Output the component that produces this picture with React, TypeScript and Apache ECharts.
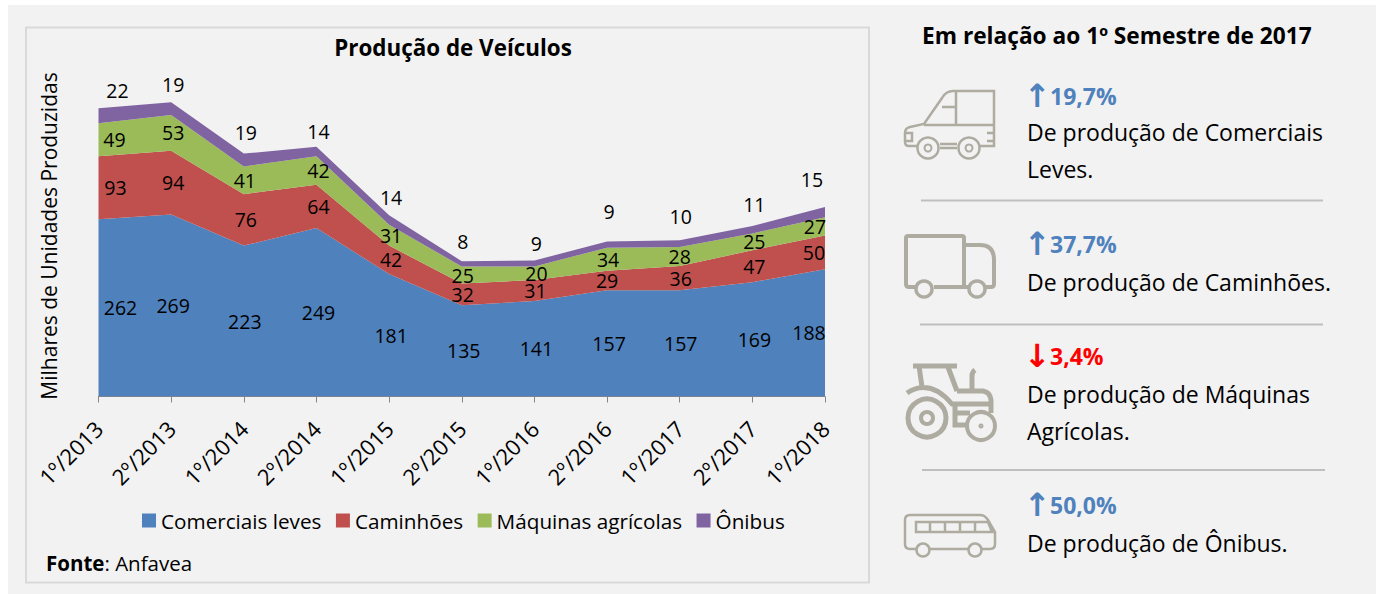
import React, { useEffect, useRef } from "react";
import * as echarts from "echarts";

const categories = ["1º/2013","2º/2013","1º/2014","2º/2014","1º/2015","2º/2015","1º/2016","2º/2016","1º/2017","2º/2017","1º/2018"];
const comerciais = [262,269,223,249,181,135,141,157,157,169,188];
const caminhoes = [93,94,76,64,42,32,31,29,36,47,50];
const maquinas = [49,53,41,42,31,25,20,34,28,25,27];
const onibus = [22,19,19,14,14,8,9,9,10,11,15];

const dxComerciais = [22,2,1,2,2,2,2,2,1,2,-16];
const dxCaminhoes = [17,2,2,2,2,1,1,0,1,2,-11];
const dxMaquinas = [16,2,1,2,2,1,2,1,0,2,-10];
const dxOnibus = [19,2,2,2,2,1,2,2,1,2,-13];
const dyOnibus = [-18,-18,-21,-15,-18,-20,-17,-30,-24,-21,-28];

const FONT = "'Open Sans'";
const GRID_TOP = 92;
const GRID_BOTTOM = 396.5;
const Y_MAX = 450;
const PX = (GRID_BOTTOM - GRID_TOP) / Y_MAX;
const ICON = "#aeaba1";

const blue = "#4f81bd";
const red = "#ff0000";

const vanD = "M917 146H909Q905 146 905 142V133Q905 128 910 127L924 124L942 98Q946 91 953 91H994V146H980M956 91V125M924 125H994M942 107H955M940 144H957M940 148H957M905 133H912V141H905M987 141H994V133H987";
const truckD = "M915 287H909Q906 287 906 284V238Q906 236 908 236H962Q964 236 964 238V287M964 245H980Q994 245 994 260V284Q994 287 991 287H986M934 287H968";
const tractorD = "M913 366H957M919 366L922 387M948 367L957 391M907 393Q930 378 952 404H991M957 391H983Q990 392 991 400V413M975 370Q972 372 972 376V391M955 406V425H966M955 413H970";
const busD = "M916 549H910Q905 549 905 544V520Q905 515 910 515H980Q985 515 988 520L995 532V544Q995 549 990 549H982M930 549H968M916 522H988L992 532H916ZM930 522V532M945 522V532M960 522V532M975 522V532";

echarts.graphic.registerShape("van", echarts.graphic.extendPath(vanD, {}));
echarts.graphic.registerShape("truck", echarts.graphic.extendPath(truckD, {}));
echarts.graphic.registerShape("tractor", echarts.graphic.extendPath(tractorD, {}));
echarts.graphic.registerShape("bus", echarts.graphic.extendPath(busD, {}));

const iconPath = (type: string, lineWidth: number) => ({
  type, x: 0, y: 0, silent: true,
  style: { fill: "none", stroke: ICON, lineWidth },
});
const ring = (cx: number, cy: number, r: number, lineWidth: number) => ({
  type: "circle", shape: { cx, cy, r }, silent: true,
  style: { fill: "#f2f2f2", stroke: ICON, lineWidth },
});
const txt = (x: number, y: number, text: string, fontSize: number, fill = "#000", fontWeight = "normal") => ({
  type: "text", x, y, silent: true,
  style: { text, fontSize, fontFamily: FONT, fill, fontWeight, align: "left", verticalAlign: "middle" },
});
const change = (y: number, arrow: string, value: string, fill: string) => ({
  type: "text", x: 1024, y, silent: true,
  style: {
    text: `{a|${arrow}}{v|${value}}`, align: "left", verticalAlign: "middle",
    rich: {
      a: { fontFamily: "'DejaVu Sans'", fontSize: 32, fontWeight: "bold", fill, width: 26 },
      v: { fontFamily: FONT, fontSize: 23, fontWeight: "bold", fill },
    },
  },
});
const rule = (x1: number, x2: number, y: number) => ({
  type: "line", shape: { x1, y1: y, x2, y2: y }, silent: true,
  style: { stroke: "#bfbfbf", lineWidth: 2 },
});

const bandSeries = (name: string, values: number[], color: string, dx: number[], dy: (v: number, i: number) => number) => ({
  name,
  type: "line",
  stack: "total",
  symbol: "circle",
  symbolSize: 0,
  showSymbol: true,
  showAllSymbol: true,
  lineStyle: { width: 0 },
  itemStyle: { color },
  areaStyle: { color, opacity: 1 },
  label: { show: true, position: "inside", fontSize: 19.5, fontFamily: FONT, color: "#000", formatter: "{c}" },
  data: values.map((value, i) => ({ value, label: { offset: [dx[i], dy(value, i)] } })),
});

export default function App() {
  const ref = useRef<HTMLDivElement>(null);
  useEffect(() => {
    document.body.style.margin = "0";
    const chart = echarts.init(ref.current!, undefined, { renderer: "svg" });
    const mid = (v: number) => (v / 2) * PX;
    chart.setOption({
      animation: false,
      backgroundColor: "#ffffff",
      title: {
        text: "Produção de Veículos",
        left: 448, top: 31, textAlign: "center",
        textStyle: { fontFamily: FONT, fontSize: 22.4, fontWeight: "bold", color: "#000" },
      },
      grid: { left: 98.5, right: 1376 - 825, top: GRID_TOP, bottom: 594 - GRID_BOTTOM },
      legend: {
        left: 137, top: 505, icon: "rect", itemWidth: 14, itemHeight: 14, itemGap: 14.5,
        textStyle: { fontFamily: FONT, fontSize: 20.7, color: "#000" },
      },
      xAxis: {
        type: "category", data: categories, boundaryGap: false,
        axisLine: { lineStyle: { color: "#868686", width: 1 } },
        axisTick: { show: true, length: 6, lineStyle: { color: "#868686" } },
        axisLabel: { rotate: 45, interval: 0, margin: 28, fontFamily: FONT, fontSize: 22, color: "#000" },
      },
      yAxis: { type: "value", min: 0, max: Y_MAX, show: false },
      series: [
        bandSeries("Comerciais leves", comerciais, "#4f81bd", dxComerciais, mid),
        bandSeries("Caminhões", caminhoes, "#c0504d", dxCaminhoes, mid),
        bandSeries("Máquinas agrícolas", maquinas, "#9bbb59", dxMaquinas, mid),
        bandSeries("Ônibus", onibus, "#8064a2", dxOnibus, (_v, i) => dyOnibus[i]),
      ],
      graphic: [
        { type: "rect", z: -10, silent: true, shape: { x: 8, y: 5, width: 1368, height: 589 }, style: { fill: "#f2f2f2" } },
        { type: "rect", z: -9, silent: true, shape: { x: 26, y: 27.5, width: 843, height: 555 }, style: { fill: "#f2f2f2", stroke: "#d9d9d9", lineWidth: 2 } },
        { type: "text", silent: true, x: 49, y: 236, rotation: Math.PI / 2,
          style: { text: "Milhares de Unidades Produzidas", fontFamily: FONT, fontSize: 21, fill: "#000", align: "center", verticalAlign: "middle" } },
        { type: "text", silent: true, x: 46, y: 563,
          style: {
            text: "{b|Fonte}{n|: Anfavea}", align: "left", verticalAlign: "middle",
            rich: {
              b: { fontFamily: FONT, fontSize: 20.5, fontWeight: "bold", fill: "#000" },
              n: { fontFamily: FONT, fontSize: 20.5, fill: "#000" },
            },
          } },
        txt(922, 35, "Em relação ao 1º Semestre de 2017", 22.7, "#000", "bold"),
        change(96, "↑", "19,7%", blue),
        txt(1027, 132, "De produção de Comerciais", 23),
        txt(1027, 169, "Leves.", 23),
        rule(921, 1323, 200.5),
        change(244, "↑", "37,7%", blue),
        txt(1027, 282, "De produção de Caminhões.", 23),
        rule(920, 1323, 324.5),
        change(356, "↓", "3,4%", red),
        txt(1027, 394, "De produção de Máquinas", 23),
        txt(1027, 431, "Agrícolas.", 23),
        rule(922, 1325, 470),
        change(505, "↑", "50,0%", blue),
        txt(1027, 543, "De produção de Ônibus.", 23),
        iconPath("van", 2.5),
        ring(928, 148, 10.5, 2.5), ring(928, 148, 3.5, 2), ring(969, 148, 10.5, 2.5), ring(969, 148, 3.5, 2),
        iconPath("truck", 4),
        ring(924, 289, 8, 3.5), ring(977, 289, 8, 3.5),
        iconPath("tractor", 5),
        ring(927, 418, 19, 5), ring(927, 418, 6, 4), ring(981, 426, 14, 4), ring(981, 426, 1.5, 2),
        iconPath("bus", 2.5),
        ring(923, 550, 6.5, 2.5), ring(975, 550, 6.5, 2.5),
      ],
    });
    return () => chart.dispose();
  }, []);
  return <div ref={ref} style={{ width: 1376, height: 594 }} />;
}
